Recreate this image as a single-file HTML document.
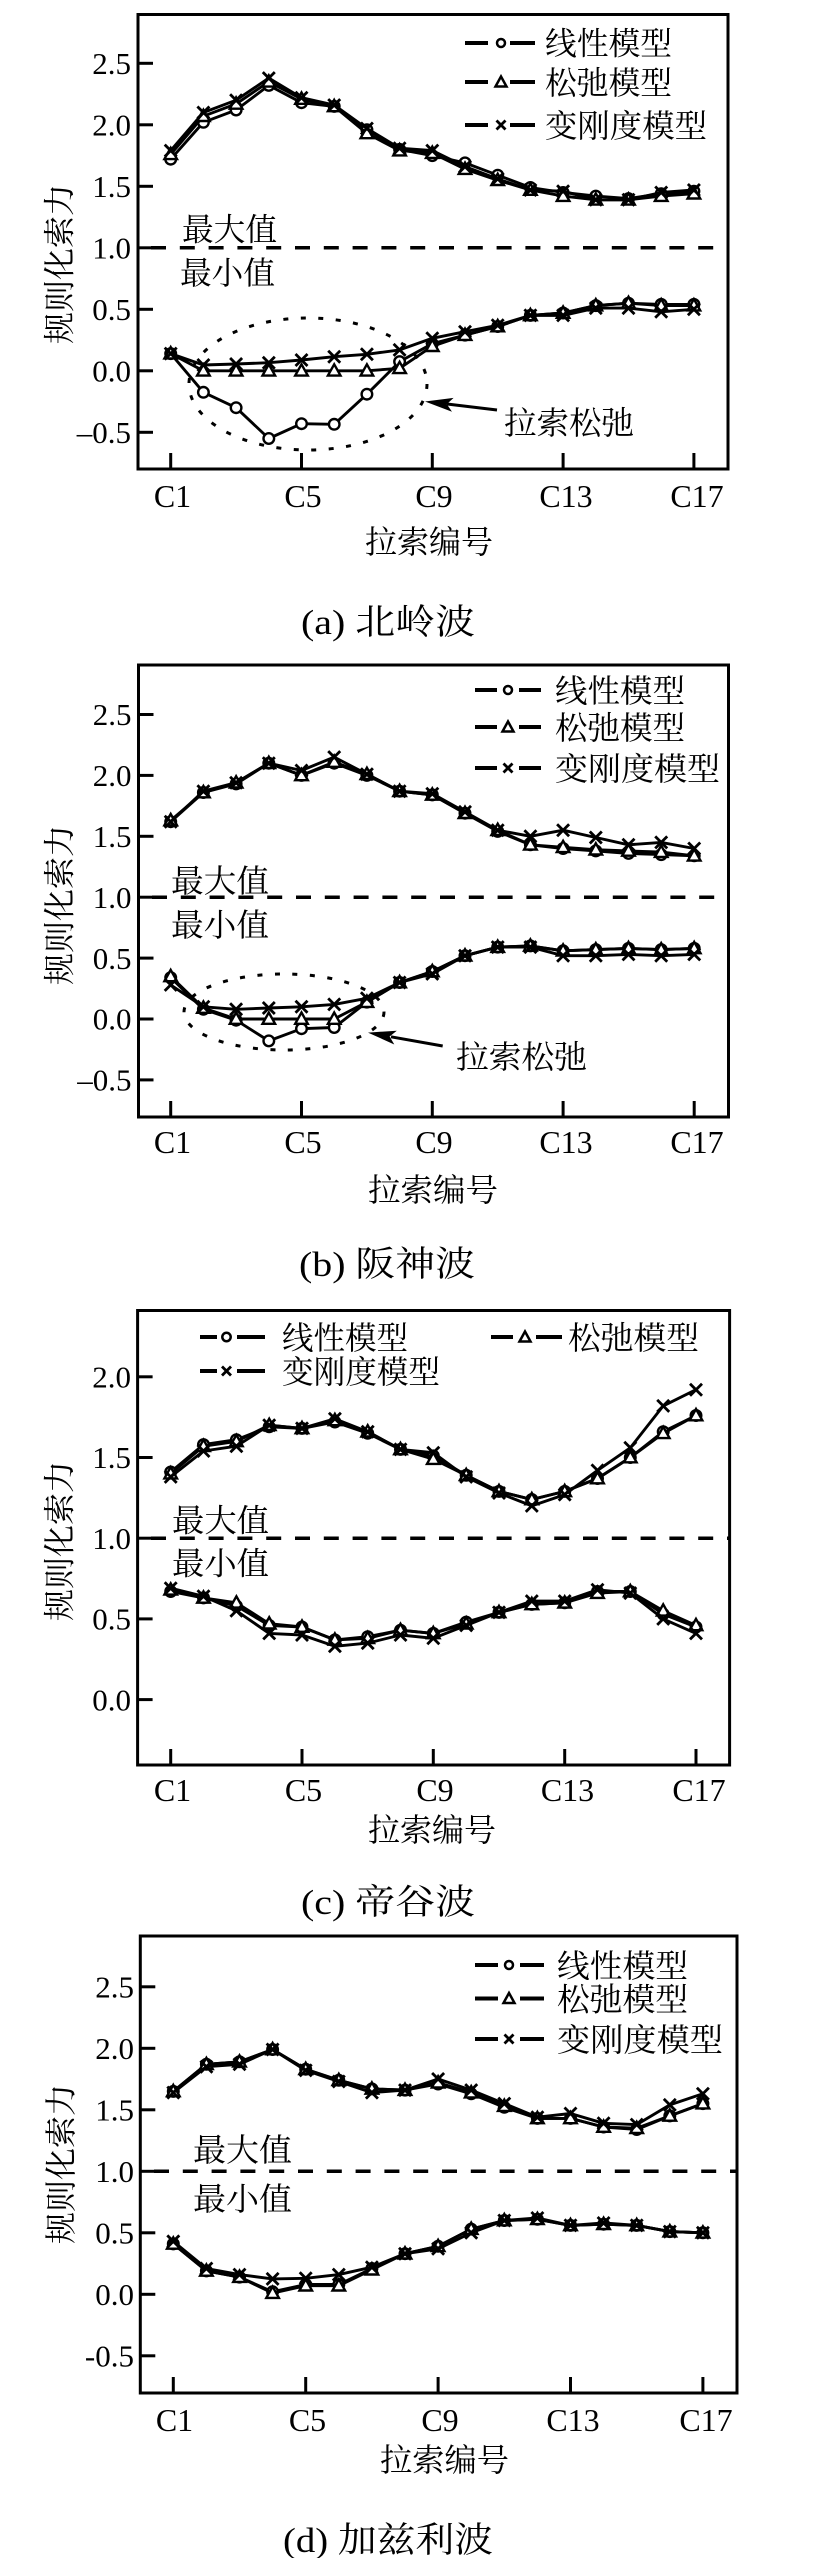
<!DOCTYPE html>
<html><head><meta charset="utf-8">
<style>
html,body{margin:0;padding:0;background:#fff;}
svg{display:block;}
text{font-family:"Liberation Serif","Noto Serif CJK SC",serif;fill:#000;}
.tk{font-size:31px;}
.tx{font-size:32px;}
.cj{font-size:32px;}
.cap{font-size:35px;}
.ln{fill:none;stroke:#000;stroke-width:2.9;stroke-linejoin:round;}
.fr{fill:none;stroke:#000;stroke-width:3;}
.t{stroke:#000;stroke-width:3;}
.dash{stroke:#000;stroke-width:3.5;stroke-dasharray:15 13.8;}
.dot{fill:none;stroke:#000;stroke-width:3;stroke-dasharray:5 12.5;}
.lg{stroke:#000;stroke-width:4;}
</style></head>
<body>
<svg width="833" height="2558" viewBox="0 0 833 2558" xmlns="http://www.w3.org/2000/svg">
<defs>
<marker id="mc" markerUnits="userSpaceOnUse" markerWidth="16" markerHeight="16" refX="8" refY="8" overflow="visible"><circle cx="8" cy="8" r="5.3" fill="#fff" stroke="#000" stroke-width="2.4"/></marker>
<marker id="mt" markerUnits="userSpaceOnUse" markerWidth="16" markerHeight="16" refX="8" refY="8" overflow="visible"><polygon points="8,1.5 14.3,12.8 1.7,12.8" fill="#fff" stroke="#000" stroke-width="2.4" stroke-linejoin="miter"/></marker>
<marker id="mx" markerUnits="userSpaceOnUse" markerWidth="16" markerHeight="16" refX="8" refY="8" overflow="visible"><path d="M2,2 L14,14 M14,2 L2,14" stroke="#000" stroke-width="2.8" fill="none"/></marker>
</defs>

<!-- ================= PANEL A ================= -->
<rect class="fr" x="138" y="14.5" width="590" height="454.5"/>
<g class="t">
<line x1="138" y1="432.3" x2="153" y2="432.3"/>
<line x1="138" y1="370.8" x2="153" y2="370.8"/>
<line x1="138" y1="309.3" x2="153" y2="309.3"/>
<line x1="138" y1="247.8" x2="153" y2="247.8"/>
<line x1="138" y1="186.3" x2="153" y2="186.3"/>
<line x1="138" y1="124.8" x2="153" y2="124.8"/>
<line x1="138" y1="63.3" x2="153" y2="63.3"/>
<line x1="170.7" y1="469" x2="170.7" y2="453"/>
<line x1="301.5" y1="469" x2="301.5" y2="453"/>
<line x1="432.3" y1="469" x2="432.3" y2="453"/>
<line x1="563.1" y1="469" x2="563.1" y2="453"/>
<line x1="693.9" y1="469" x2="693.9" y2="453"/>
</g>
<line class="dash" x1="151" y1="247.8" x2="728" y2="247.8"/>
<g class="tk" text-anchor="end">
<text x="131" y="443">–0.5</text>
<text x="131" y="381.5">0.0</text>
<text x="131" y="320">0.5</text>
<text x="131" y="258.5">1.0</text>
<text x="131" y="197">1.5</text>
<text x="131" y="135.5">2.0</text>
<text x="131" y="74">2.5</text>
</g>
<g class="tx" text-anchor="middle">
<text x="172.5" y="507">C1</text>
<text x="303" y="507">C5</text>
<text x="434" y="507">C9</text>
<text x="566" y="507">C13</text>
<text x="697" y="507">C17</text>
</g>
<text class="cj" x="365" y="553" textLength="128" lengthAdjust="spacingAndGlyphs">拉索编号</text>
<text class="cj" transform="translate(58.7,264) rotate(-90)" x="-80" y="12" textLength="160" lengthAdjust="spacingAndGlyphs">规则化索力</text>
<text class="cap" x="301" y="634" textLength="174" lengthAdjust="spacingAndGlyphs">(a) 北岭波</text>
<text class="cj" x="182" y="240.5" textLength="95" lengthAdjust="spacingAndGlyphs">最大值</text>
<text class="cj" x="180" y="284" textLength="95" lengthAdjust="spacingAndGlyphs">最小值</text>
<!-- legend a -->
<line class="lg" x1="465" y1="43" x2="488" y2="43"/><line class="lg" x1="510" y1="43" x2="535" y2="43"/>
<circle cx="501" cy="43" r="4" fill="#fff" stroke="#000" stroke-width="2.5"/>
<text class="cj" x="545" y="54.5" textLength="127" lengthAdjust="spacingAndGlyphs">线性模型</text>
<line class="lg" x1="465" y1="82" x2="488" y2="82"/><line class="lg" x1="510" y1="82" x2="535" y2="82"/>
<polygon points="501,76.5 506.5,86.5 495.5,86.5" fill="#fff" stroke="#000" stroke-width="2.5"/>
<text class="cj" x="545" y="94" textLength="127" lengthAdjust="spacingAndGlyphs">松弛模型</text>
<line class="lg" x1="465" y1="125" x2="488" y2="125"/><line class="lg" x1="510" y1="125" x2="535" y2="125"/>
<path d="M496.5,120.5 L505.5,129.5 M505.5,120.5 L496.5,129.5" stroke="#000" stroke-width="2.8"/>
<text class="cj" x="545" y="137" textLength="162" lengthAdjust="spacingAndGlyphs">变刚度模型</text>
<!-- annotation a -->
<ellipse class="dot" cx="308" cy="384" rx="119" ry="66"/>
<line x1="497" y1="410" x2="447" y2="404" stroke="#000" stroke-width="3"/>
<polygon points="425,401.5 453.6,397.9 446.8,404.1 452,411.8" fill="#000"/>
<text class="cj" x="504" y="434" textLength="130" lengthAdjust="spacingAndGlyphs">拉索松弛</text>
<!-- data a -->
<polyline class="ln" marker-start="url(#mc)" marker-mid="url(#mc)" marker-end="url(#mc)" points="170.7,159.2 203.4,122.3 236.1,110.0 268.8,85.4 301.5,102.7 334.2,106.4 366.9,129.7 399.6,149.4 432.3,155.6 465.0,162.9 497.7,175.2 530.4,187.5 563.1,192.5 595.8,196.1 628.5,198.6 661.2,193.7 693.9,191.2"/>
<polyline class="ln" marker-start="url(#mt)" marker-mid="url(#mt)" marker-end="url(#mt)" points="170.7,154.3 203.4,116.2 236.1,103.9 268.8,81.8 301.5,99.0 334.2,106.4 366.9,133.4 399.6,150.6 432.3,153.1 465.0,169.1 497.7,180.2 530.4,190.0 563.1,196.1 595.8,199.8 628.5,199.8 661.2,196.1 693.9,193.7"/>
<polyline class="ln" marker-start="url(#mx)" marker-mid="url(#mx)" marker-end="url(#mx)" points="170.7,150.6 203.4,112.5 236.1,100.2 268.8,78.1 301.5,97.7 334.2,105.1 366.9,128.5 399.6,148.2 432.3,150.6 465.0,166.6 497.7,178.9 530.4,190.0 563.1,191.2 595.8,199.8 628.5,199.8 661.2,192.5 693.9,190.0"/>
<polyline class="ln" marker-start="url(#mc)" marker-mid="url(#mc)" marker-end="url(#mc)" points="170.7,353.6 203.4,392.3 236.1,407.7 268.8,438.5 301.5,423.7 334.2,424.3 366.9,394.2 399.6,361.6 432.3,343.7 465.0,335.1 497.7,326.5 530.4,315.4 563.1,313.0 595.8,305.6 628.5,303.2 661.2,304.4 693.9,304.4"/>
<polyline class="ln" marker-start="url(#mt)" marker-mid="url(#mt)" marker-end="url(#mt)" points="170.7,353.6 203.4,370.8 236.1,370.8 268.8,370.8 301.5,370.8 334.2,370.8 366.9,370.8 399.6,368.3 432.3,346.2 465.0,335.1 497.7,326.5 530.4,315.4 563.1,313.0 595.8,305.6 628.5,303.2 661.2,305.6 693.9,305.6"/>
<polyline class="ln" marker-start="url(#mx)" marker-mid="url(#mx)" marker-end="url(#mx)" points="170.7,353.6 203.4,365.0 236.1,364.0 268.8,362.7 301.5,360.0 334.2,356.7 366.9,354.3 399.6,349.9 432.3,338.3 465.0,331.7 497.7,325.3 530.4,315.4 563.1,315.4 595.8,308.1 628.5,308.1 661.2,311.8 693.9,309.3"/>

<!-- ================= PANEL B ================= -->
<rect class="fr" x="138.5" y="665" width="590" height="452"/>
<g class="t">
<line x1="138.5" y1="1079.9" x2="153.5" y2="1079.9"/>
<line x1="138.5" y1="1019" x2="153.5" y2="1019"/>
<line x1="138.5" y1="958.1" x2="153.5" y2="958.1"/>
<line x1="138.5" y1="897.2" x2="153.5" y2="897.2"/>
<line x1="138.5" y1="836.3" x2="153.5" y2="836.3"/>
<line x1="138.5" y1="775.4" x2="153.5" y2="775.4"/>
<line x1="138.5" y1="714.5" x2="153.5" y2="714.5"/>
<line x1="170.7" y1="1117" x2="170.7" y2="1101"/>
<line x1="301.5" y1="1117" x2="301.5" y2="1101"/>
<line x1="432.3" y1="1117" x2="432.3" y2="1101"/>
<line x1="563.1" y1="1117" x2="563.1" y2="1101"/>
<line x1="694.2" y1="1117" x2="694.2" y2="1101"/>
</g>
<line class="dash" x1="152" y1="897.2" x2="728.5" y2="897.2"/>
<g class="tk" text-anchor="end">
<text x="131.5" y="1090.6">–0.5</text>
<text x="131.5" y="1029.7">0.0</text>
<text x="131.5" y="968.8">0.5</text>
<text x="131.5" y="907.9">1.0</text>
<text x="131.5" y="847">1.5</text>
<text x="131.5" y="786.1">2.0</text>
<text x="131.5" y="725.2">2.5</text>
</g>
<g class="tx" text-anchor="middle">
<text x="172.5" y="1153">C1</text>
<text x="303" y="1153">C5</text>
<text x="434" y="1153">C9</text>
<text x="566" y="1153">C13</text>
<text x="697" y="1153">C17</text>
</g>
<text class="cj" x="368" y="1201" textLength="130" lengthAdjust="spacingAndGlyphs">拉索编号</text>
<text class="cj" transform="translate(58.7,905) rotate(-90)" x="-80" y="12" textLength="160" lengthAdjust="spacingAndGlyphs">规则化索力</text>
<text class="cap" x="299" y="1276" textLength="176" lengthAdjust="spacingAndGlyphs">(b) 阪神波</text>
<text class="cj" x="171" y="892" textLength="98" lengthAdjust="spacingAndGlyphs">最大值</text>
<text class="cj" x="171" y="936" textLength="98" lengthAdjust="spacingAndGlyphs">最小值</text>
<!-- legend b -->
<line class="lg" x1="475" y1="690" x2="497" y2="690"/><line class="lg" x1="519" y1="690" x2="541" y2="690"/>
<circle cx="508" cy="690" r="4" fill="#fff" stroke="#000" stroke-width="2.5"/>
<text class="cj" x="555" y="702" textLength="130" lengthAdjust="spacingAndGlyphs">线性模型</text>
<line class="lg" x1="475" y1="727" x2="497" y2="727"/><line class="lg" x1="519" y1="727" x2="541" y2="727"/>
<polygon points="508,721.5 513.5,731.5 502.5,731.5" fill="#fff" stroke="#000" stroke-width="2.5"/>
<text class="cj" x="555" y="739" textLength="130" lengthAdjust="spacingAndGlyphs">松弛模型</text>
<line class="lg" x1="475" y1="768" x2="497" y2="768"/><line class="lg" x1="519" y1="768" x2="541" y2="768"/>
<path d="M503.5,763.5 L512.5,772.5 M512.5,763.5 L503.5,772.5" stroke="#000" stroke-width="2.8"/>
<text class="cj" x="555" y="780" textLength="165" lengthAdjust="spacingAndGlyphs">变刚度模型</text>
<!-- annotation b -->
<ellipse class="dot" cx="284" cy="1012" rx="100" ry="38"/>
<line x1="442.7" y1="1046" x2="391" y2="1036.8" stroke="#000" stroke-width="3"/>
<polygon points="368,1032.6 396.8,1030.7 389.6,1036.5 394.3,1044.5" fill="#000"/>
<text class="cj" x="456" y="1068" textLength="131" lengthAdjust="spacingAndGlyphs">拉索松弛</text>
<!-- data b -->
<polyline class="ln" marker-start="url(#mc)" marker-mid="url(#mc)" marker-end="url(#mc)" points="170.7,821.7 203.4,792.5 236.1,783.9 268.8,763.2 301.5,775.4 334.2,763.2 366.9,775.4 399.6,791.2 432.3,794.9 465.0,813.2 497.7,831.4 530.4,844.8 563.1,848.5 595.8,850.9 628.5,853.4 661.2,854.6 694.2,855.8"/>
<polyline class="ln" marker-start="url(#mt)" marker-mid="url(#mt)" marker-end="url(#mt)" points="170.7,820.5 203.4,792.5 236.1,782.7 268.8,763.2 301.5,775.4 334.2,762.0 366.9,774.2 399.6,791.2 432.3,794.9 465.0,813.2 497.7,830.2 530.4,844.8 563.1,847.3 595.8,849.7 628.5,850.9 661.2,852.1 694.2,855.8"/>
<polyline class="ln" marker-start="url(#mx)" marker-mid="url(#mx)" marker-end="url(#mx)" points="170.7,821.7 203.4,791.2 236.1,782.7 268.8,763.2 301.5,770.5 334.2,757.1 366.9,774.2 399.6,791.2 432.3,793.7 465.0,811.9 497.7,830.2 530.4,836.3 563.1,830.2 595.8,837.5 628.5,844.8 661.2,842.4 694.2,848.5"/>
<polyline class="ln" marker-start="url(#mc)" marker-mid="url(#mc)" marker-end="url(#mc)" points="170.7,977.6 203.4,1009.3 236.1,1020.2 268.8,1040.9 301.5,1028.7 334.2,1027.5 366.9,1002.1 399.6,982.5 432.3,971.5 465.0,955.7 497.7,947.1 530.4,945.9 563.1,950.8 595.8,949.6 628.5,948.4 661.2,949.6 694.2,948.4"/>
<polyline class="ln" marker-start="url(#mt)" marker-mid="url(#mt)" marker-end="url(#mt)" points="170.7,976.4 203.4,1008.0 236.1,1019 268.8,1019 301.5,1019 334.2,1019 366.9,1002.1 399.6,982.5 432.3,971.5 465.0,955.7 497.7,947.1 530.4,945.9 563.1,950.8 595.8,949.6 628.5,948.4 661.2,949.6 694.2,948.4"/>
<polyline class="ln" marker-start="url(#mx)" marker-mid="url(#mx)" marker-end="url(#mx)" points="170.7,984.9 203.4,1006.8 236.1,1009.3 268.8,1008.0 301.5,1006.8 334.2,1004.4 366.9,998.3 399.6,982.5 432.3,973.9 465.0,955.7 497.7,947.1 530.4,947.1 563.1,955.7 595.8,955.7 628.5,954.4 661.2,955.7 694.2,954.4"/>

<!-- ================= PANEL C ================= -->
<rect class="fr" x="137.6" y="1310.5" width="592" height="454.5"/>
<g class="t">
<line x1="137.6" y1="1699.6" x2="152.6" y2="1699.6"/>
<line x1="137.6" y1="1618.9" x2="152.6" y2="1618.9"/>
<line x1="137.6" y1="1538.2" x2="152.6" y2="1538.2"/>
<line x1="137.6" y1="1457.5" x2="152.6" y2="1457.5"/>
<line x1="137.6" y1="1376.8" x2="152.6" y2="1376.8"/>
<line x1="170.7" y1="1765" x2="170.7" y2="1749"/>
<line x1="302.0" y1="1765" x2="302.0" y2="1749"/>
<line x1="433.3" y1="1765" x2="433.3" y2="1749"/>
<line x1="564.7" y1="1765" x2="564.7" y2="1749"/>
<line x1="696.0" y1="1765" x2="696.0" y2="1749"/>
</g>
<line class="dash" x1="151" y1="1538.2" x2="729.6" y2="1538.2"/>
<g class="tk" text-anchor="end">
<text x="131" y="1710.3">0.0</text>
<text x="131" y="1629.6">0.5</text>
<text x="131" y="1548.9">1.0</text>
<text x="131" y="1468.2">1.5</text>
<text x="131" y="1387.5">2.0</text>
</g>
<g class="tx" text-anchor="middle">
<text x="172.5" y="1801">C1</text>
<text x="303.5" y="1801">C5</text>
<text x="435" y="1801">C9</text>
<text x="567.5" y="1801">C13</text>
<text x="699" y="1801">C17</text>
</g>
<text class="cj" x="368" y="1841" textLength="128" lengthAdjust="spacingAndGlyphs">拉索编号</text>
<text class="cj" transform="translate(58.7,1541) rotate(-90)" x="-80" y="12" textLength="160" lengthAdjust="spacingAndGlyphs">规则化索力</text>
<text class="cap" x="301" y="1914" textLength="174" lengthAdjust="spacingAndGlyphs">(c) 帝谷波</text>
<text class="cj" x="172" y="1531.5" textLength="97" lengthAdjust="spacingAndGlyphs">最大值</text>
<text class="cj" x="172" y="1574.5" textLength="97" lengthAdjust="spacingAndGlyphs">最小值</text>
<!-- legend c -->
<line class="lg" x1="200" y1="1337" x2="217" y2="1337"/><line class="lg" x1="237" y1="1337" x2="265" y2="1337"/>
<circle cx="226.5" cy="1337" r="4.2" fill="#fff" stroke="#000" stroke-width="2.5"/>
<text class="cj" x="282" y="1349" textLength="126" lengthAdjust="spacingAndGlyphs">线性模型</text>
<line class="lg" x1="491" y1="1337" x2="513" y2="1337"/><line class="lg" x1="536" y1="1337" x2="562" y2="1337"/>
<polygon points="525,1331.5 530.5,1341.5 519.5,1341.5" fill="#fff" stroke="#000" stroke-width="2.5"/>
<text class="cj" x="568" y="1349" textLength="131" lengthAdjust="spacingAndGlyphs">松弛模型</text>
<line class="lg" x1="200" y1="1371" x2="217" y2="1371"/><line class="lg" x1="237" y1="1371" x2="265" y2="1371"/>
<path d="M222,1366.5 L231,1375.5 M231,1366.5 L222,1375.5" stroke="#000" stroke-width="2.8"/>
<text class="cj" x="282" y="1383" textLength="158" lengthAdjust="spacingAndGlyphs">变刚度模型</text>
<!-- data c -->
<polyline class="ln" marker-start="url(#mc)" marker-mid="url(#mc)" marker-end="url(#mc)" points="170.7,1472.0 203.5,1444.6 236.4,1439.7 269.2,1426.8 302.0,1428.4 334.9,1422.0 367.7,1433.3 400.5,1449.4 433.3,1455.9 466.2,1475.3 499.0,1491.4 531.8,1499.5 564.7,1491.4 597.5,1478.5 630.3,1457.5 663.2,1431.7 696.0,1415.5"/>
<polyline class="ln" marker-start="url(#mt)" marker-mid="url(#mt)" marker-end="url(#mt)" points="170.7,1473.6 203.5,1446.2 236.4,1441.4 269.2,1425.2 302.0,1428.4 334.9,1420.4 367.7,1431.7 400.5,1449.4 433.3,1459.1 466.2,1475.3 499.0,1491.4 531.8,1499.5 564.7,1491.4 597.5,1478.5 630.3,1457.5 663.2,1433.3 696.0,1415.5"/>
<polyline class="ln" marker-start="url(#mx)" marker-mid="url(#mx)" marker-end="url(#mx)" points="170.7,1476.9 203.5,1451.0 236.4,1446.2 269.2,1425.2 302.0,1428.4 334.9,1418.8 367.7,1431.7 400.5,1449.4 433.3,1452.7 466.2,1476.9 499.0,1493.0 531.8,1505.9 564.7,1494.6 597.5,1470.4 630.3,1447.8 663.2,1405.9 696.0,1389.7"/>
<polyline class="ln" marker-start="url(#mc)" marker-mid="url(#mc)" marker-end="url(#mc)" points="170.7,1591.5 203.5,1597.9 236.4,1606.0 269.2,1625.4 302.0,1627.0 334.9,1639.9 367.7,1636.7 400.5,1630.2 433.3,1633.4 466.2,1622.1 499.0,1612.4 531.8,1604.4 564.7,1602.8 597.5,1591.5 630.3,1591.5 663.2,1614.1 696.0,1627.0"/>
<polyline class="ln" marker-start="url(#mt)" marker-mid="url(#mt)" marker-end="url(#mt)" points="170.7,1589.8 203.5,1597.9 236.4,1602.8 269.2,1623.7 302.0,1627.0 334.9,1639.9 367.7,1638.3 400.5,1630.2 433.3,1633.4 466.2,1623.7 499.0,1612.4 531.8,1604.4 564.7,1602.8 597.5,1593.1 630.3,1591.5 663.2,1610.8 696.0,1625.4"/>
<polyline class="ln" marker-start="url(#mx)" marker-mid="url(#mx)" marker-end="url(#mx)" points="170.7,1588.2 203.5,1596.3 236.4,1610.8 269.2,1633.4 302.0,1635.0 334.9,1646.3 367.7,1643.1 400.5,1635.0 433.3,1638.3 466.2,1625.4 499.0,1612.4 531.8,1601.1 564.7,1601.1 597.5,1589.8 630.3,1593.1 663.2,1618.9 696.0,1633.4"/>

<!-- ================= PANEL D ================= -->
<rect class="fr" x="140.3" y="1936" width="596.7" height="457"/>
<g class="t">
<line x1="140.3" y1="2355.8" x2="155.3" y2="2355.8"/>
<line x1="140.3" y1="2294.3" x2="155.3" y2="2294.3"/>
<line x1="140.3" y1="2232.8" x2="155.3" y2="2232.8"/>
<line x1="140.3" y1="2171.3" x2="155.3" y2="2171.3"/>
<line x1="140.3" y1="2109.8" x2="155.3" y2="2109.8"/>
<line x1="140.3" y1="2048.3" x2="155.3" y2="2048.3"/>
<line x1="140.3" y1="1986.8" x2="155.3" y2="1986.8"/>
<line x1="173.3" y1="2393" x2="173.3" y2="2377"/>
<line x1="305.7" y1="2393" x2="305.7" y2="2377"/>
<line x1="438.1" y1="2393" x2="438.1" y2="2377"/>
<line x1="570.5" y1="2393" x2="570.5" y2="2377"/>
<line x1="702.9" y1="2393" x2="702.9" y2="2377"/>
</g>
<line class="dash" x1="154" y1="2171.3" x2="737" y2="2171.3"/>
<g class="tk" text-anchor="end">
<text x="134" y="2366.5">-0.5</text>
<text x="134" y="2305">0.0</text>
<text x="134" y="2243.5">0.5</text>
<text x="134" y="2182">1.0</text>
<text x="134" y="2120.5">1.5</text>
<text x="134" y="2059">2.0</text>
<text x="134" y="1997.5">2.5</text>
</g>
<g class="tx" text-anchor="middle">
<text x="174.5" y="2431">C1</text>
<text x="307.5" y="2431">C5</text>
<text x="440" y="2431">C9</text>
<text x="573" y="2431">C13</text>
<text x="706" y="2431">C17</text>
</g>
<text class="cj" x="380" y="2471" textLength="129" lengthAdjust="spacingAndGlyphs">拉索编号</text>
<text class="cj" transform="translate(60,2164) rotate(-90)" x="-80" y="12" textLength="160" lengthAdjust="spacingAndGlyphs">规则化索力</text>
<text class="cap" x="283" y="2552" textLength="210" lengthAdjust="spacingAndGlyphs">(d) 加兹利波</text>
<text class="cj" x="193" y="2161" textLength="99" lengthAdjust="spacingAndGlyphs">最大值</text>
<text class="cj" x="193" y="2210" textLength="99" lengthAdjust="spacingAndGlyphs">最小值</text>
<!-- legend d -->
<line class="lg" x1="475" y1="1965" x2="498" y2="1965"/><line class="lg" x1="520" y1="1965" x2="544" y2="1965"/>
<circle cx="509" cy="1965" r="4" fill="#fff" stroke="#000" stroke-width="2.5"/>
<text class="cj" x="557" y="1977" textLength="131" lengthAdjust="spacingAndGlyphs">线性模型</text>
<line class="lg" x1="475" y1="1998.5" x2="498" y2="1998.5"/><line class="lg" x1="520" y1="1998.5" x2="544" y2="1998.5"/>
<polygon points="509,1993 514.5,2003 503.5,2003" fill="#fff" stroke="#000" stroke-width="2.5"/>
<text class="cj" x="557" y="2010.5" textLength="131" lengthAdjust="spacingAndGlyphs">松弛模型</text>
<line class="lg" x1="475" y1="2039" x2="498" y2="2039"/><line class="lg" x1="520" y1="2039" x2="544" y2="2039"/>
<path d="M504.5,2034.5 L513.5,2043.5 M513.5,2034.5 L504.5,2043.5" stroke="#000" stroke-width="2.8"/>
<text class="cj" x="557" y="2051" textLength="166" lengthAdjust="spacingAndGlyphs">变刚度模型</text>
<!-- data d -->
<polyline class="ln" marker-start="url(#mc)" marker-mid="url(#mc)" marker-end="url(#mc)" points="173.3,2091.4 206.4,2064.3 239.5,2061.8 272.6,2049.5 305.7,2069.2 338.8,2080.3 371.9,2088.9 405.0,2090.1 438.1,2084.0 471.2,2093.8 504.3,2107.3 537.4,2118.4 570.5,2118.4 603.6,2127.0 636.7,2129.5 669.8,2115.9 702.9,2103.6"/>
<polyline class="ln" marker-start="url(#mt)" marker-mid="url(#mt)" marker-end="url(#mt)" points="173.3,2091.4 206.4,2064.3 239.5,2061.8 272.6,2049.5 305.7,2069.2 338.8,2080.3 371.9,2088.9 405.0,2090.1 438.1,2082.7 471.2,2092.6 504.3,2106.1 537.4,2118.4 570.5,2118.4 603.6,2127.0 636.7,2128.2 669.8,2115.9 702.9,2103.6"/>
<polyline class="ln" marker-start="url(#mx)" marker-mid="url(#mx)" marker-end="url(#mx)" points="173.3,2092.6 206.4,2066.7 239.5,2064.3 272.6,2049.5 305.7,2070.4 338.8,2081.5 371.9,2092.6 405.0,2090.1 438.1,2079.0 471.2,2090.1 504.3,2103.6 537.4,2117.2 570.5,2113.5 603.6,2123.3 636.7,2124.6 669.8,2104.9 702.9,2093.8"/>
<polyline class="ln" marker-start="url(#mc)" marker-mid="url(#mc)" marker-end="url(#mc)" points="173.3,2243.9 206.4,2270.9 239.5,2277.1 272.6,2291.8 305.7,2284.5 338.8,2284.5 371.9,2268.5 405.0,2253.7 438.1,2246.3 471.2,2229.1 504.3,2220.5 537.4,2219.3 570.5,2225.4 603.6,2224.2 636.7,2225.4 669.8,2231.6 702.9,2232.8"/>
<polyline class="ln" marker-start="url(#mt)" marker-mid="url(#mt)" marker-end="url(#mt)" points="173.3,2243.9 206.4,2270.9 239.5,2277.1 272.6,2293.1 305.7,2285.7 338.8,2285.7 371.9,2269.7 405.0,2253.7 438.1,2246.3 471.2,2229.1 504.3,2220.5 537.4,2219.3 570.5,2225.4 603.6,2224.2 636.7,2225.4 669.8,2231.6 702.9,2232.8"/>
<polyline class="ln" marker-start="url(#mx)" marker-mid="url(#mx)" marker-end="url(#mx)" points="173.3,2241.4 206.4,2268.5 239.5,2274.6 272.6,2278.9 305.7,2278.3 338.8,2274.6 371.9,2267.2 405.0,2253.7 438.1,2248.8 471.2,2232.8 504.3,2220.5 537.4,2218.0 570.5,2225.4 603.6,2223.0 636.7,2225.4 669.8,2231.6 702.9,2232.8"/>
</svg>
</body></html>
